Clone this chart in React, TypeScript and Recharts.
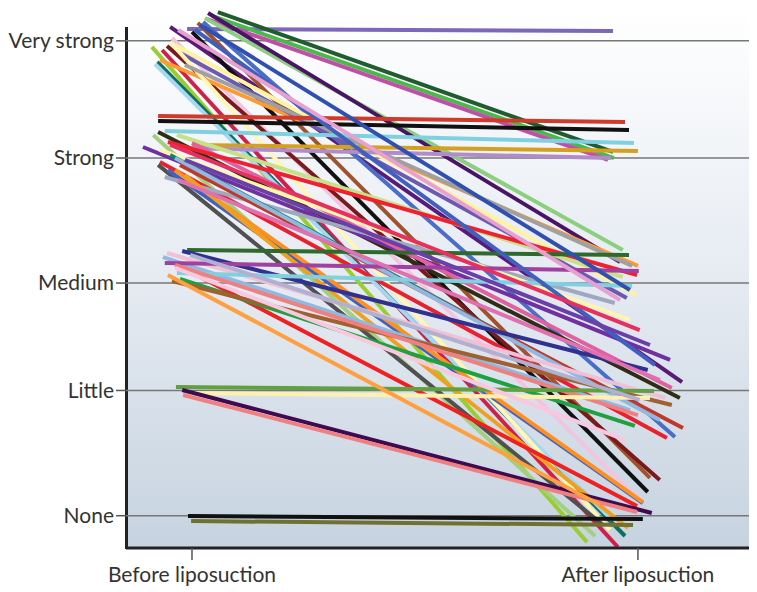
import React from "react";
import { CartesianGrid, Line, LineChart, XAxis, YAxis } from "recharts";

// y levels: None=0 ... Very strong=4 (the source scale is slightly uneven)
const levelTicks = [0, 1.055, 1.96, 3.013, 4];
const levelLabels = ["None", "Little", "Medium", "Strong", "Very strong"];
const timeTicks = [0, 1];
const timeLabels = ["Before liposuction", "After liposuction"];

// one entry per patient: jittered x position and level before / after
const beforeX = [
  -0.011, 0.058, 0.045, 0.034, 0.029, 0.036, -0.049, 0.013, 0, 0.025, -0.045,
  -0.09, -0.067, -0.056, -0.078, -0.083, -0.072, -0.027, -0.038, -0.049,
  -0.016, -0.076, -0.076, -0.061, 0, -0.016, -0.076, -0.087, -0.034, -0.11, 0,
  -0.054, -0.072, -0.076, -0.054, -0.061, -0.038, -0.072, -0.049, -0.027,
  -0.038, -0.016, -0.011, -0.022, -0.056, -0.065, -0.061, -0.02, -0.034,
  -0.027, -0.045, -0.038, -0.036, -0.004, -0.022, -0.02, -0.009, -0.002,
  0.018, 0.007, -0.031, -0.049, -0.016, -0.031, -0.004, -0.038, -0.054,
];
const beforeLevel = [
  4.1, 4.243, 4.21, 4.184, 4.193, 4.235, 4.117, 4.151, 4.075, 4.159, 4.024,
  3.949, 3.923, 3.957, 3.822, 3.805, 3.839, 3.898, 3.965, 3.991, 3.797, 3.367,
  3.325, 3.241, 3.123, 3.098, 3.232, 3.207, 3.207, 3.106, 3.14, 3.148, 2.98,
  2.955, 2.912, 2.853, 2.912, 3.081, 3.039, 2.955, 3.013, 2.87, 2.238, 2.23,
  2.213, 2.179, 2.129, 2.087, 2.045, 1.994, 1.977, 2.112, 1.084, 1.034, 1.059,
  1.017, -0.003, -0.045, 4.134, 4.092, 4.092, 3.123, 2.997, 2.828, 2.196,
  2.087, 2.028,
];
const afterX = [
  0.944, 0.944, 0.946, 0.933, 0.966, 0.96, 1.099, 1.027, 1.022, 1.083, 1.004,
  0.886, 0.955, 1.049, 0.971, 0.942, 1.0, 0.975, 0.996, 0.937, 0.987, 0.971,
  0.98, 0.991, 1.0, 0.939, 1.094, 0.904, 0.966, 1.072, 1.076, 0.998, 1.065,
  0.922, 1.011, 0.948, 1.011, 0.982, 1.016, 1.101, 1.049, 0.978, 0.98, 1.022,
  1.061, 0.982, 1.002, 0.998, 0.987, 0.993, 1.076, 1.0, 1.036, 1.027, 1.031,
  0.998, 1.011, 0.989, 0.982, 1.038, 0.96, 1.004, 1.027, 1.049, 1.004, 0.971,
  0.915,
];
const afterLevel = [
  4.083, 3.064, 3.013, 2.997, 2.238, 2.137, 1.126, 0.318, 0.2, 0.663, 0.132,
  -0.222, -0.264, 0.301, -0.171, -0.036, 2.104, 1.834, 1.859, -0.12, 2.104,
  3.317, 3.249, 3.14, 3.072, 3.013, 0.992, -0.171, 2.011, 1.312, 1.076, 2.028,
  0.655, -0.078, 0.107, 1.792, 0.115, 1.649, 0.89, 0.739, 0.806, -0.104, 2.196,
  1.227, 0.992, 0.89, 2.061, 0.082, 1.935, 0.756, 0.933, 0.848, 1.051, 0.992,
  0.023, 0.031, -0.028, -0.078, 1.901, 1.27, 1.817, 1.564, 1.438, 1.143, 0.975,
  0.638, 0.09,
];

const palette = [
  "#7b68b8", "#1f5c2e", "#4cb84c", "#c04fa8", "#8ccf7e", "#4a1466", "#5a1a78",
  "#a0522d", "#111111", "#4a6ec8", "#f2c4e0", "#9acd32", "#d0204a", "#7a1a1a",
  "#0f6e62", "#a8d8f0", "#ff9a30", "#6a5ab0", "#fff2a0", "#fff6b8", "#a0a0a0",
  "#d03a2a", "#111111", "#80d0e0", "#d4a020", "#b08cc8", "#2e2e14", "#a2d080",
  "#c8e08a", "#7030a0", "#e060a0", "#f02030", "#e82030", "#505050", "#3f62c0",
  "#a0a8c0", "#ff9020", "#fff4b0", "#108070", "#c03828", "#90b8e0", "#f0a020",
  "#2e6a2e", "#303090", "#f0c0d8", "#90b8e0", "#a040a0", "#f02020", "#80d0e0",
  "#20a040", "#a06030", "#f08080", "#60a040", "#fff0b0", "#400a50", "#f08080",
  "#111111", "#707030", "#3050b0", "#4060c0", "#e8a0d0", "#e83060", "#6a40a8",
  "#e070b0", "#b0b0d0", "#f8c8e0", "#ffa040",
];

const FONT = "Lato, 'Open Sans', sans-serif";

export default function App() {
  const series = beforeX.map((bx, i) => [
    { x: bx, y: beforeLevel[i] },
    { x: afterX[i], y: afterLevel[i] },
  ]);

  return (
    <div style={{ position: "relative", width: 749, height: 584 }}>
      <div
        style={{
          position: "absolute",
          left: 118,
          top: 0,
          width: 631,
          height: 540,
          background: "linear-gradient(to bottom, #ffffff 0%, #e6ebf2 50%, #c6d3e0 100%)",
        }}
      />
      {/* the drawn y axis stops a little above "Very strong" */}
      <div
        style={{
          position: "absolute",
          left: 116.5,
          top: 19,
          width: 3,
          height: 522,
          background: "#222",
        }}
      />
      <LineChart
        width={749}
        height={584}
        margin={{ top: 2, right: 0, bottom: 0, left: 0 }}
        style={{ position: "absolute", left: 0, top: 0 }}
      >
        <CartesianGrid
          vertical={false}
          horizontalValues={levelTicks}
          stroke="#777"
          strokeWidth={1.5}
        />
        <XAxis
          dataKey="x"
          type="number"
          domain={[-0.148, 1.267]}
          allowDataOverflow
          ticks={timeTicks}
          tickFormatter={(v: number) => timeLabels[timeTicks.indexOf(v)] ?? ""}
          height={44}
          tickSize={12}
          tickMargin={7}
          axisLine={{ stroke: "#222", strokeWidth: 3 }}
          tickLine={{ stroke: "#555", strokeWidth: 1.5 }}
          tick={{ fill: "#333", fontSize: 21, fontFamily: FONT }}
        />
        <YAxis
          type="number"
          domain={[-0.272, 4.26]}
          allowDataOverflow
          ticks={levelTicks}
          tickFormatter={(v: number) => levelLabels[levelTicks.indexOf(v)] ?? ""}
          width={118}
          tickSize={10}
          tickMargin={2}
          axisLine={false}
          tickLine={{ stroke: "#555", strokeWidth: 1.5 }}
          tick={{ fill: "#333", fontSize: 21, fontFamily: FONT }}
        />
        {series.map((pts, i) => (
          <Line
            key={i}
            data={pts}
            dataKey="y"
            type="linear"
            stroke={palette[i]}
            strokeWidth={4}
            dot={false}
            activeDot={false}
            isAnimationActive={false}
          />
        ))}
      </LineChart>
    </div>
  );
}
